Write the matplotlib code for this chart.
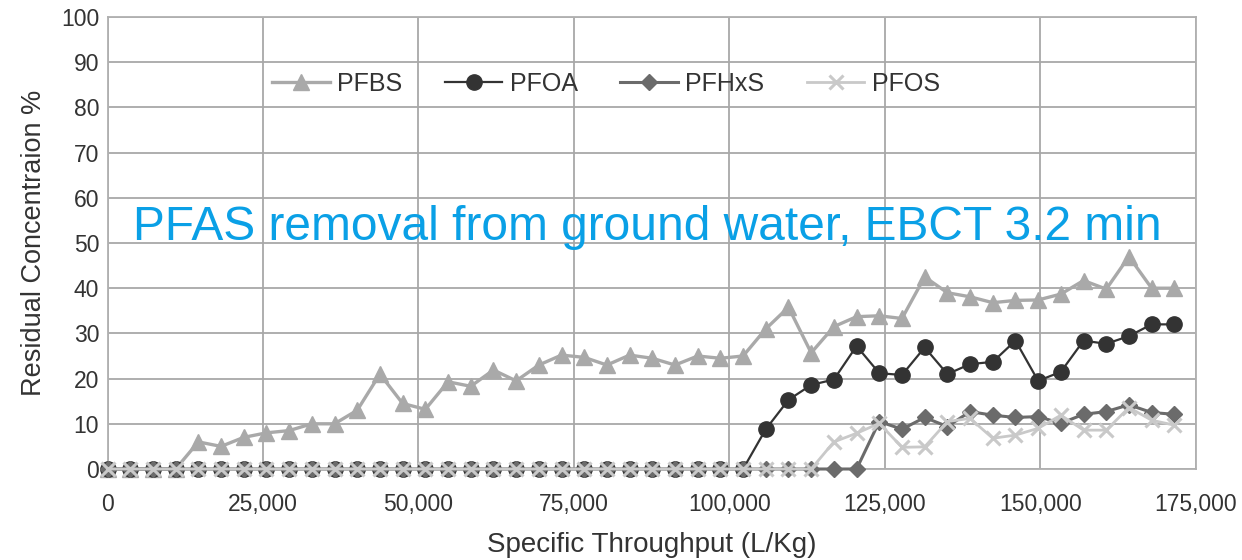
"""PFAS breakthrough curves: residual concentration vs specific throughput."""

import matplotlib

matplotlib.use("Agg")
import matplotlib.pyplot as plt
from matplotlib.ticker import FuncFormatter

plt.rcParams.update(
    {
        "font.family": ["Liberation Sans", "DejaVu Sans"],
        "text.color": "#333333",
        "axes.labelcolor": "#333333",
        "xtick.color": "#333333",
        "ytick.color": "#333333",
    }
)

# specific throughput (L/Kg), one sample every ~3,650 L/Kg
throughput = [
    0, 3650, 7300, 10950, 14600, 18250, 21900, 25550, 29200, 32850,
    36500, 40150, 43800, 47450, 51100, 54750, 58400, 62050, 65700, 69350,
    73000, 76650, 80300, 83950, 87600, 91250, 94900, 98550, 102200, 105850,
    109500, 113150, 116800, 120450, 124100, 127750, 131400, 135050, 138700, 142350,
    146000, 149650, 153300, 156950, 160600, 164250, 167900, 171550,
]

pfbs = [
    0, 0, 0, 0, 6, 5, 7, 8, 8.5, 10,
    10, 13, 21, 14.5, 13.2, 19.3, 18.3, 21.9, 19.5, 23,
    25.2, 24.7, 23, 25.2, 24.5, 23, 25, 24.5, 25, 31,
    35.8, 25.7, 31.5, 33.7, 33.9, 33.3, 42.5, 39, 38.1, 36.8,
    37.3, 37.4, 38.7, 41.7, 39.8, 47, 40, 40,
]
pfoa = [0] * 29 + [
    8.8, 15.3, 18.6, 19.8, 27.2, 21.2, 20.8, 26.9, 21.0, 23.2,
    23.7, 28.4, 19.5, 21.5, 28.4, 27.7, 29.4, 32.0, 32.0,
]
pfhxs = [0] * 34 + [
    10.5, 8.8, 11.4, 9.4, 12.7, 11.9, 11.4, 11.6, 10.1, 12.1,
    12.7, 14.2, 12.5, 12.1,
]
pfos = [0] * 32 + [
    6.0, 7.9, 10.1, 4.8, 4.9, 10.5, 11.2, 6.8, 7.5, 9.0,
    11.9, 8.6, 8.6, 13.6, 10.8, 9.7,
]

series = [
    ("PFBS", pfbs, "^", "#a9a9a9", 2.4, 12),
    ("PFOA", pfoa, "o", "#333333", 1.6, 11),
    ("PFHxS", pfhxs, "D", "#6b6b6b", 2.2, 8),
    ("PFOS", pfos, "x", "#c9c9c9", 2.0, 10),
]

fig = plt.figure(figsize=(12.42, 5.6), dpi=100)
ax = fig.add_axes([0.0866, 0.1625, 0.8762, 0.8071])

for name, vals, marker, color, lw, ms in series:
    ax.plot(
        throughput,
        vals,
        marker=marker,
        color=color,
        lw=lw,
        ms=ms,
        mew=2.2 if marker == "x" else 1.0,
        label=name,
        clip_on=False,
        zorder=3,
    )

ax.set_xlim(0, 175000)
ax.set_ylim(0, 100)
ax.set_xticks(range(0, 175001, 25000))
ax.set_yticks(range(0, 101, 10))
ax.xaxis.set_major_formatter(FuncFormatter(lambda v, _: f"{int(v):,}"))
ax.tick_params(length=0, labelsize=16.5)
ax.tick_params(axis="x", pad=17)
ax.tick_params(axis="y", pad=6)
ax.grid(True, color="#a8a8a8", lw=1.3)
for s in ax.spines.values():
    s.set_color("#b0b0b0")
    s.set_linewidth(1.3)

ax.set_xlabel("Specific Throughput (L/Kg)", fontsize=20, labelpad=12)
ax.set_ylabel("Residual Concentraion %", fontsize=19.5, labelpad=10)

fig.legend(
    loc="center",
    bbox_to_anchor=(0.488, 0.85),
    ncol=4,
    frameon=False,
    fontsize=18,
    handlelength=2.3,
    handletextpad=0.3,
    columnspacing=1.7,
)

fig.text(
    0.5213,
    0.5714,
    "PFAS removal from ground water, EBCT 3.2 min",
    color="#0aa0e6",
    fontsize=34.5,
    ha="center",
    va="baseline",
)

fig.savefig("out.png", dpi=100)
